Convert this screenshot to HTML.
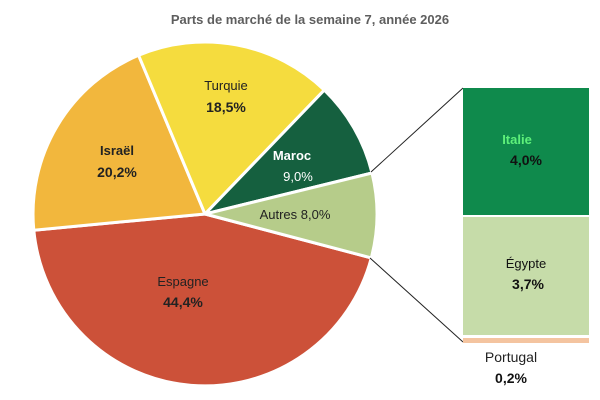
<!DOCTYPE html>
<html><head><meta charset="utf-8"><style>
html,body{margin:0;padding:0;background:#fff;}
svg{display:block;font-family:"Liberation Sans",Arial,sans-serif;}
</style></head><body>
<svg width="600" height="400" viewBox="0 0 600 400">
<text x="310" y="24" text-anchor="middle" font-size="13" font-weight="bold" fill="#5e5e5e">Parts de marché de la semaine 7, année 2026</text>
<g stroke="#fff" stroke-width="3" stroke-linejoin="round">
<path d="M205,214 L371.3,257.9 A172,172 0 0 1 33.8,230.2 Z" fill="#cc5139"/>
<path d="M205,214 L33.8,230.2 A172,172 0 0 1 138.6,55.3 Z" fill="#f2b73d"/>
<path d="M205,214 L138.6,55.3 A172,172 0 0 1 324.3,90.1 Z" fill="#f5dc3e"/>
<path d="M205,214 L324.3,90.1 A172,172 0 0 1 372,173 Z" fill="#15603f"/>
<path d="M205,214 L372,173 A172,172 0 0 1 371.3,257.9 Z" fill="#b6cc8a"/>
</g>
<line x1="371" y1="172" x2="463" y2="88" stroke="#222" stroke-width="1"/>
<line x1="370" y1="258" x2="463" y2="342" stroke="#222" stroke-width="1"/>
<rect x="463" y="88" width="126" height="127" fill="#0f8a4c"/>
<rect x="463" y="217" width="126" height="118" fill="#c6dca9"/>
<rect x="463" y="338" width="126" height="5" fill="#f4c4a0"/>
<g font-size="13" text-anchor="middle">
<text x="226" y="90" fill="#222">Turquie</text>
<text x="226" y="112" font-size="14" font-weight="bold" fill="#222">18,5%</text>
<text x="117" y="155" fill="#222" font-weight="bold">Israël</text>
<text x="117" y="177" font-size="14" font-weight="bold" fill="#222">20,2%</text>
<text x="292" y="160" fill="#fff" font-weight="bold">Maroc</text>
<text x="298" y="181" fill="#fff">9,0%</text>
<text x="295" y="219" fill="#222">Autres 8,0%</text>
<text x="183" y="286" fill="#222">Espagne</text>
<text x="183" y="307" font-size="14" font-weight="bold" fill="#222">44,4%</text>
<text x="517" y="144" fill="#5ef07a" font-weight="bold">Italie</text>
<text x="526" y="165" font-size="14" font-weight="bold" fill="#111">4,0%</text>
<text x="526" y="268" fill="#111">Égypte</text>
<text x="528" y="289" font-size="14" font-weight="bold" fill="#111">3,7%</text>
<text x="511" y="362" font-size="14" fill="#222">Portugal</text>
<text x="511" y="383" font-size="14" font-weight="bold" fill="#111">0,2%</text>
</g>
</svg>
</body></html>
